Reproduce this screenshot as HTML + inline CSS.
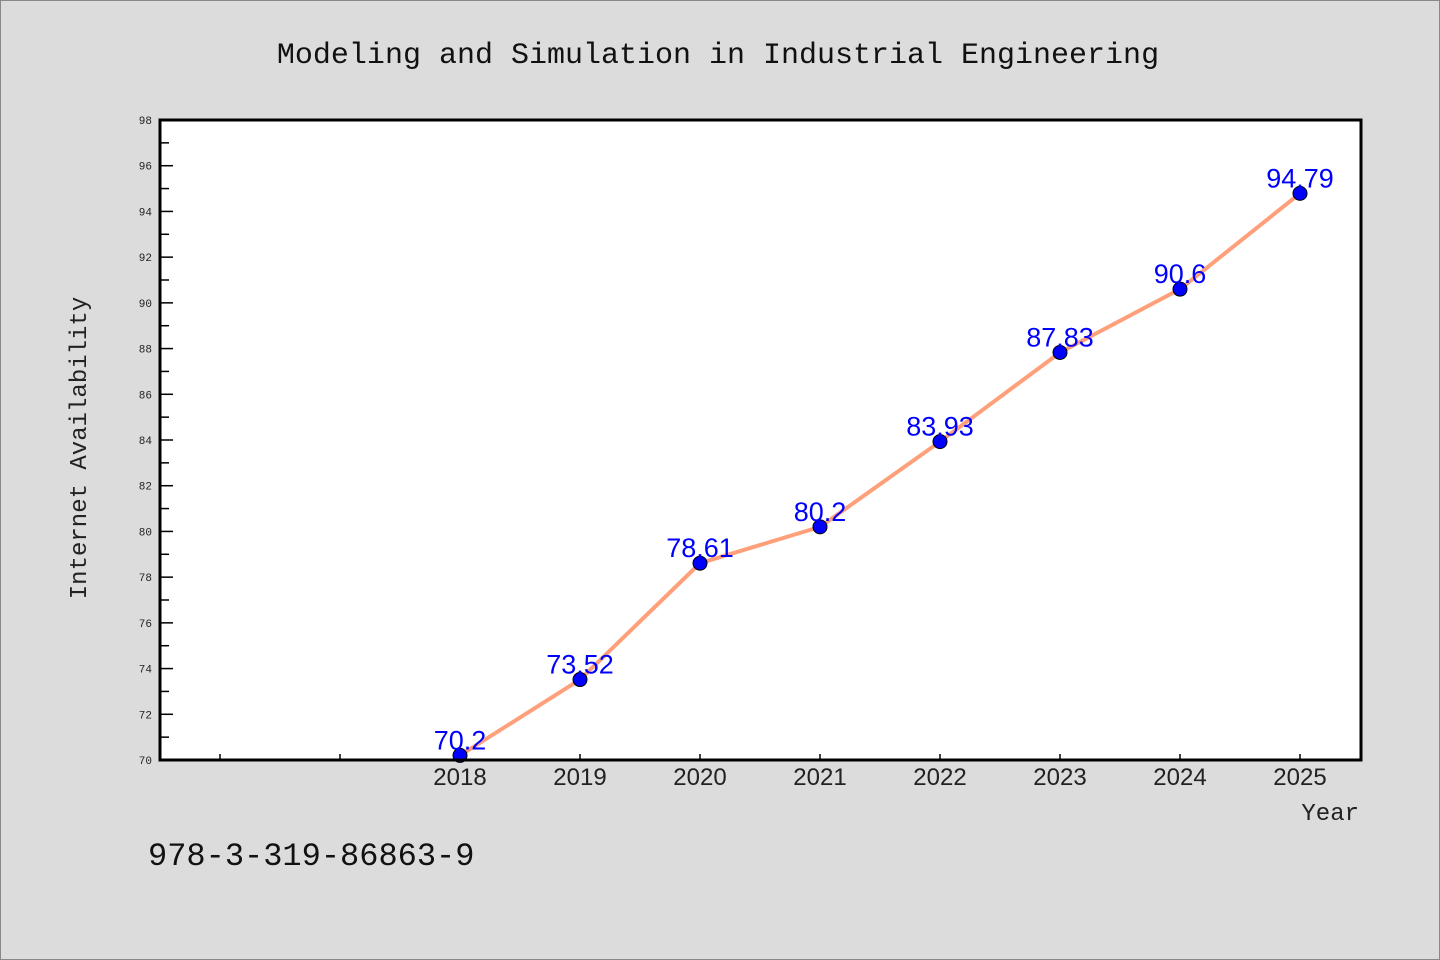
<!DOCTYPE html>
<html><head><meta charset="utf-8"><style>
body{margin:0;background:#dcdcdc;}
svg{display:block;font-family:"Liberation Mono","DejaVu Sans Mono",monospace;}
</style></head><body>
<svg id="chart" width="1440" height="960">
<rect x="0.5" y="0.5" width="1439" height="959" fill="#dcdcdc" stroke="#888"/>
<text x="718" y="63" font-size="30" text-anchor="middle" fill="#111">Modeling and Simulation in Industrial Engineering</text>
<rect x="160" y="120" width="1201" height="640" fill="#fff"/>
<g id="yaxis"></g>
<g id="xaxis"></g>
<g id="series"></g>
<rect x="160" y="120" width="1201" height="640" fill="none" stroke="#000" stroke-width="3"/>
<text transform="translate(86,448) rotate(-90)" font-size="24" text-anchor="middle" fill="#222">Internet Availability</text>
<text x="1359" y="820" font-size="24" text-anchor="end" fill="#222">Year</text>
<text x="148" y="865" font-size="32" fill="#111">978-3-319-86863-9</text>
</svg>
<script>
const categories = ["", "", "2018", "2019", "2020", "2021", "2022", "2023", "2024", "2025"];
const values = [null, null, 70.2, 73.52, 78.61, 80.2, 83.93, 87.83, 90.6, 94.79];
const valueLabels = ["", "", "70.2", "73.52", "78.61", "80.2", "83.93", "87.83", "90.6", "94.79"];
const yTicks = [70, 72, 74, 76, 78, 80, 82, 84, 86, 88, 90, 92, 94, 96, 98];

const NS = "http://www.w3.org/2000/svg";
const L = 160, R = 1360, T = 120, B = 760, yMin = 70, yMax = 98;
const slot = (R - L) / categories.length;
const xs = i => L + slot * (i + 0.5);
const ys = v => B - (v - yMin) / (yMax - yMin) * (B - T);
function mk(tag, attrs, parent) {
  const e = document.createElementNS(NS, tag);
  for (const k in attrs) e.setAttribute(k, attrs[k]);
  parent.appendChild(e);
  return e;
}
const yg = document.getElementById('yaxis');
yTicks.forEach((v, i) => {
  const y = ys(v);
  const t = mk('line', {x1: L, x2: L + 13, y1: y, y2: y, stroke: '#000', 'stroke-width': 1.5}, yg);
  
  
  const lb = mk('text', {x: 152, y: y + 4, 'font-size': 11, 'text-anchor': 'end', fill: '#222'}, yg);
  lb.textContent = v;
  
  
  if (i < yTicks.length - 1) {
    const ym = ys(v + 1);
    const m = mk('line', {x1: L, x2: L + 9, y1: ym, y2: ym, stroke: '#000', 'stroke-width': 1.5}, yg);
    
    
  }
});
const xg = document.getElementById('xaxis');
categories.forEach((c, i) => {
  const x = xs(i);
  const t = mk('line', {x1: x, x2: x, y1: B, y2: B - 6, stroke: '#000', 'stroke-width': 1.5}, xg);
  
  
  if (c) {
    const lb = mk('text', {x: x, y: 785, 'font-size': 24, 'text-anchor': 'middle', fill: '#222', 'font-family': 'Liberation Sans, sans-serif'}, xg);
    lb.textContent = c;
    
    
  }
});
const sg = document.getElementById('series');
const pts = [];
values.forEach((v, i) => { if (v !== null) pts.push([xs(i), ys(v), i]); });
const line = mk('polyline', {points: pts.map(p => p[0] + ',' + p[1]).join(' '), fill: 'none', stroke: '#ffa07a', 'stroke-width': 4, 'stroke-linejoin': 'round'}, sg);


pts.forEach(p => {
  const c = mk('circle', {cx: p[0], cy: p[1], r: 7, fill: '#0000ff', stroke: '#000', 'stroke-width': 1}, sg);
  
  
  const lb = mk('text', {x: p[0], y: p[1] - 6, 'font-size': 27, 'text-anchor': 'middle', fill: '#0000ff', 'font-family': 'Liberation Sans, sans-serif'}, sg);
  lb.textContent = valueLabels[p[2]];
  
  
});
</script>
</body></html>
